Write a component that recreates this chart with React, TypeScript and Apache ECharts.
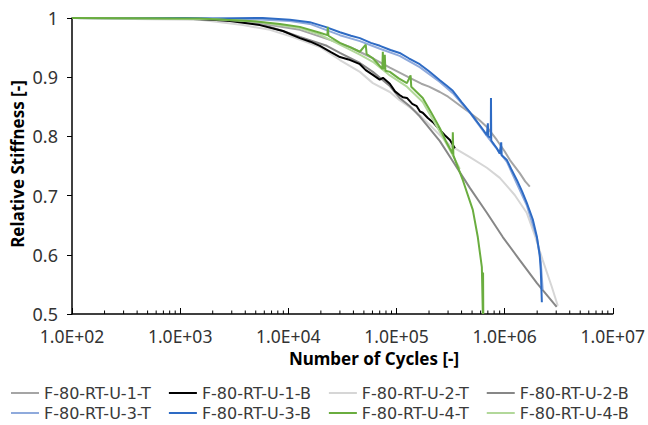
import React, { useEffect, useRef } from "react";
import * as echarts from "echarts";

const seriesNames = [
  "F-80-RT-U-1-T",
  "F-80-RT-U-1-B",
  "F-80-RT-U-2-T",
  "F-80-RT-U-2-B",
  "F-80-RT-U-3-T",
  "F-80-RT-U-3-B",
  "F-80-RT-U-4-T",
  "F-80-RT-U-4-B",
];

const seriesColors = ["#A5A5A5", "#000000", "#D6D6D6", "#878787", "#8FAADC", "#2E6BC4", "#6AAD3F", "#B2D89A"];

const xDecades = [100, 1000, 10000, 100000, 1000000, 10000000];
const minorMultipliers = [2, 3, 4, 5, 6, 7, 8, 9];
const yTicks = [0.5, 0.6, 0.7, 0.8, 0.9, 1];

// [cycles, relative stiffness]
const u1T: [number, number][] = [
  [100, 1], [1000, 0.999], [2890, 0.997], [6760, 0.988], [12800, 0.98], [24200, 0.963], [37100, 0.951],
  [60500, 0.932], [86900, 0.916], [133000, 0.899], [170000, 0.889], [200000, 0.884], [252000, 0.875],
  [300000, 0.867], [332000, 0.861], [400000, 0.85], [477000, 0.84], [580000, 0.828], [685000, 0.816],
  [847000, 0.794], [1000000, 0.775], [1120000, 0.76], [1380000, 0.738], [1550000, 0.724], [1710000, 0.715],
];

const u1B: [number, number][] = [
  [100, 1], [500, 1], [1000, 0.999], [2000, 0.997], [2890, 0.995], [5460, 0.988], [8920, 0.978],
  [12800, 0.966], [16000, 0.96], [19600, 0.953], [25000, 0.942], [30000, 0.934], [36000, 0.93],
  [45900, 0.922], [52000, 0.912], [60500, 0.904], [70000, 0.896], [75000, 0.899], [86900, 0.889],
  [97000, 0.876], [107000, 0.87], [115000, 0.866], [125000, 0.865], [140000, 0.855], [154000, 0.851],
  [165000, 0.842], [175000, 0.84], [195000, 0.831], [217000, 0.824], [235000, 0.817], [252000, 0.811],
  [280000, 0.802], [312000, 0.794], [347000, 0.78],
];

const u2T: [number, number][] = [
  [100, 1], [526, 0.998], [1524, 0.997], [3800, 0.988], [6760, 0.98], [11030, 0.968], [19600, 0.951],
  [30000, 0.929], [45900, 0.909], [60500, 0.89], [86900, 0.875], [107000, 0.861], [154000, 0.841],
  [217000, 0.814], [312000, 0.785], [477000, 0.765], [685000, 0.747], [903000, 0.73], [1240000, 0.701],
  [1600000, 0.671], [1900000, 0.633], [2250000, 0.591], [2730000, 0.546], [3100000, 0.514],
];

const u2B: [number, number][] = [
  [100, 1], [1000, 0.999], [2890, 0.997], [5460, 0.99], [8920, 0.978], [12800, 0.968], [22700, 0.953],
  [30000, 0.941], [45900, 0.924], [60500, 0.909], [86900, 0.885], [107000, 0.865], [133000, 0.851],
  [164000, 0.834], [252000, 0.792], [332000, 0.758], [477000, 0.713], [685000, 0.671], [962000, 0.63],
  [1380000, 0.591], [1990000, 0.552], [3030000, 0.512],
];

const u3T: [number, number][] = [
  [100, 1], [500, 0.999], [1500, 0.999], [4420, 0.998], [10350, 0.995], [15800, 0.99], [30000, 0.971],
  [45900, 0.961], [70300, 0.948], [107000, 0.936], [164000, 0.917], [252000, 0.892], [332000, 0.873],
  [477000, 0.84], [685000, 0.801], [1050000, 0.757], [1600000, 0.684], [1990000, 0.628], [2160000, 0.588],
  [2250000, 0.541],
];

const u3B: [number, number][] = [
  [100, 1], [300, 1], [1000, 1], [2000, 0.999], [5800, 1], [10350, 0.997], [15800, 0.993], [22000, 0.985],
  [30000, 0.976], [38000, 0.97], [45900, 0.966], [58000, 0.958], [70300, 0.953], [88000, 0.946],
  [107000, 0.941], [130000, 0.932], [164000, 0.922], [200000, 0.91], [252000, 0.895], [290000, 0.886],
  [332000, 0.877], [400000, 0.858], [477000, 0.841], [560000, 0.824], [640000, 0.81], [685000, 0.802],
  [700000, 0.822], [705000, 0.8], [745000, 0.798], [748000, 0.865], [752000, 0.793], [800000, 0.786],
  [847000, 0.78], [900000, 0.771], [930000, 0.79], [940000, 0.768], [1050000, 0.76], [1150000, 0.745],
  [1300000, 0.726], [1450000, 0.707], [1600000, 0.688], [1820000, 0.66], [1990000, 0.63], [2110000, 0.6],
  [2160000, 0.574], [2210000, 0.52],
];

const u4T: [number, number][] = [
  [100, 1], [1500, 0.999], [4420, 0.995], [8360, 0.99], [12800, 0.985], [19600, 0.975], [23000, 0.971],
  [23200, 0.985], [23500, 0.97], [30000, 0.958], [38000, 0.95], [45900, 0.943], [52000, 0.955],
  [53000, 0.939], [60500, 0.932], [74000, 0.914], [74800, 0.943], [75500, 0.913], [78000, 0.938],
  [79000, 0.911], [86900, 0.909], [105000, 0.898], [125000, 0.89], [135000, 0.903], [137000, 0.884],
  [175000, 0.865], [210000, 0.84], [252000, 0.814], [290000, 0.79], [330000, 0.771], [332000, 0.807],
  [336000, 0.768], [411000, 0.726], [508000, 0.676], [565000, 0.63], [616000, 0.579], [629000, 0.5],
  [632000, 0.57], [635000, 0.5],
];

const u4B: [number, number][] = [
  [100, 1], [2000, 0.998], [5000, 0.994], [12800, 0.983], [19600, 0.972], [30000, 0.955], [45900, 0.938],
  [60500, 0.926], [86900, 0.903], [125000, 0.884], [175000, 0.858], [252000, 0.808], [332000, 0.768],
  [385000, 0.745],
];

const seriesData = [u1T, u1B, u2T, u2B, u3T, u3B, u4T, u4B];
const drawOrder = [2, 3, 0, 1, 4, 5, 7, 6];

const FONT = "'Noto Sans', sans-serif";
const LEGEND_FONT = "'DejaVu Sans', sans-serif";

export default function App() {
  const ref = useRef<HTMLDivElement>(null);
  useEffect(() => {
    if (!ref.current) return;
    const chart = echarts.init(ref.current, null, { renderer: "svg" });
    const minorTicks: number[][] = [];
    xDecades.slice(0, -1).forEach((d) => minorMultipliers.forEach((m) => minorTicks.push([d * m, 0.5])));

    const lineSeries = drawOrder.map((i) => ({
      name: seriesNames[i],
      type: "line",
      data: seriesData[i],
      symbol: "none",
      showSymbol: false,
      color: seriesColors[i],
      lineStyle: { width: 2, color: seriesColors[i] },
      z: 3,
    }));

    const legendBase = {
      left: 11,
      width: 637,
      padding: 0,
      itemWidth: 28,
      itemHeight: 14,
      itemGap: 18,
      icon: "path://M0,6 L28,6 L28,8 L0,8 Z",
      textStyle: { fontSize: 16, lineHeight: 18, fontFamily: LEGEND_FONT, color: "#3a3a3a" },
    };

    chart.setOption({
      animation: false,
      backgroundColor: "#ffffff",
      grid: { left: 72, right: 35, top: 18, bottom: 111, containLabel: false },
      xAxis: {
        type: "log",
        logBase: 10,
        min: xDecades[0],
        max: xDecades[xDecades.length - 1],
        axisLine: { lineStyle: { color: "#000", width: 1.5 } },
        axisTick: { show: true, inside: true, length: 6, lineStyle: { color: "#000", width: 1 } },
        splitLine: { show: false },
        axisLabel: {
          margin: 13,
          fontSize: 17.5,
          lineHeight: 18,
          fontFamily: FONT,
          color: "#333333",
          formatter: (v: number) => "1.0E+" + String(Math.round(Math.log10(v))).padStart(2, "0"),
        },
      },
      yAxis: {
        type: "value",
        min: yTicks[0],
        max: yTicks[yTicks.length - 1],
        interval: 0.1,
        axisLine: { show: true, lineStyle: { color: "#000", width: 1.5 } },
        axisTick: { show: true, inside: false, length: 5, lineStyle: { color: "#000" } },
        splitLine: { show: false },
        axisLabel: {
          margin: 14,
          fontSize: 18,
          fontFamily: FONT,
          color: "#333333",
          formatter: (v: number) => (Math.abs(v - 1) < 1e-9 ? "1" : v.toFixed(1)),
        },
      },
      legend: [
        { ...legendBase, top: 384, data: seriesNames.slice(0, 4) },
        { ...legendBase, top: 404, data: seriesNames.slice(4) },
      ],
      graphic: [
        {
          type: "text",
          x: 374,
          y: 358,
          style: {
            text: "Number of Cycles [-]",
            font: `bold 17px ${FONT}`,
            lineHeight: 18,
            fill: "#000",
            align: "center",
            verticalAlign: "middle",
          },
        },
        {
          type: "text",
          x: 17,
          y: 164,
          rotation: Math.PI / 2,
          style: {
            text: "Relative Stiffness [-]",
            font: `bold 17px ${FONT}`,
            fill: "#000",
            align: "center",
            verticalAlign: "middle",
          },
        },
      ],
      series: [
        ...lineSeries,
        {
          type: "custom",
          silent: true,
          clip: false,
          z: 5,
          data: minorTicks,
          encode: { x: 0, y: 1 },
          renderItem: (_p: any, api: any) => {
            const pt = api.coord([api.value(0), api.value(1)]);
            return {
              type: "line",
              shape: { x1: pt[0], y1: pt[1], x2: pt[0], y2: pt[1] - 3.5 },
              style: { stroke: "#000", lineWidth: 1 },
            };
          },
        },
      ],
    });
    return () => chart.dispose();
  }, []);
  return <div ref={ref} style={{ position: "fixed", left: 0, top: 0, width: 648, height: 425 }} />;
}
